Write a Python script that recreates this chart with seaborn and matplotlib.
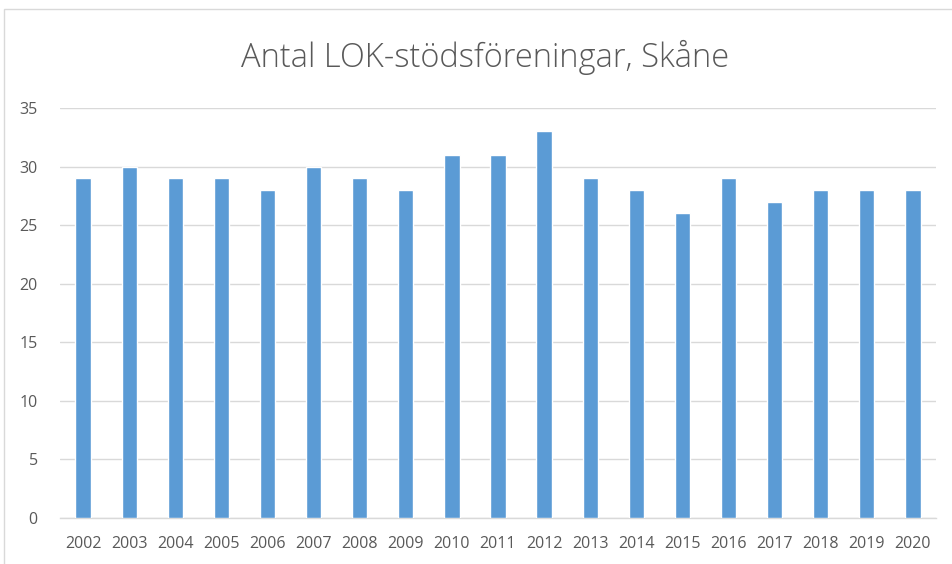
import matplotlib
matplotlib.use("Agg")
import matplotlib.pyplot as plt
from matplotlib.patches import Rectangle
import seaborn as sns
import pandas as pd

years = ["2002", "2003", "2004", "2005", "2006", "2007", "2008", "2009", "2010", "2011",
         "2012", "2013", "2014", "2015", "2016", "2017", "2018", "2019", "2020"]
antal = [29, 30, 29, 29, 28, 30, 29, 28, 31, 31, 33, 29, 28, 26, 29, 27, 28, 28, 28]
yticks = [0, 5, 10, 15, 20, 25, 30, 35]

df = pd.DataFrame({"ar": years, "antal": antal})

sns.set_style("white")
plt.rcParams['font.family'] = ['Open Sans', 'DejaVu Sans']

fig = plt.figure(figsize=(9.52, 5.64), dpi=100)
ax = fig.add_axes([60 / 952, 1 - 518 / 564, 876 / 952, 410 / 564])

sns.barplot(data=df, x="ar", y="antal", color="#5b9bd5", saturation=1, width=0.33, ax=ax, zorder=3)

ax.set_ylim(0, 35)
ax.set_yticks(yticks)
ax.set_xlim(-0.5, len(years) - 0.5)
ax.set_xlabel("")
ax.set_ylabel("")
ax.yaxis.grid(True, color="#d9d9d9", linewidth=1, zorder=0)
ax.set_axisbelow(True)
for s in ["top", "right", "left"]:
    ax.spines[s].set_visible(False)
ax.spines["bottom"].set_color("#d9d9d9")
ax.spines["bottom"].set_linewidth(1)
ax.tick_params(axis="both", length=0, labelsize=11.5, labelcolor="#595959")
ax.tick_params(axis="y", pad=16)
ax.tick_params(axis="x", pad=13)

fig.text(485 / 952, 1 - 57 / 564, "Antal LOK-stödsföreningar, Skåne", ha="center", va="center",
         fontsize=23.5, color="#595959", fontweight="light")

# kantlinje runt diagrammet
fig.patches.append(Rectangle((4 / 952, -0.02), 1.0, (564 - 9) / 564 + 0.02, transform=fig.transFigure,
                             fill=False, edgecolor="#d9d9d9", linewidth=1))

fig.savefig("out.png", dpi=100)
